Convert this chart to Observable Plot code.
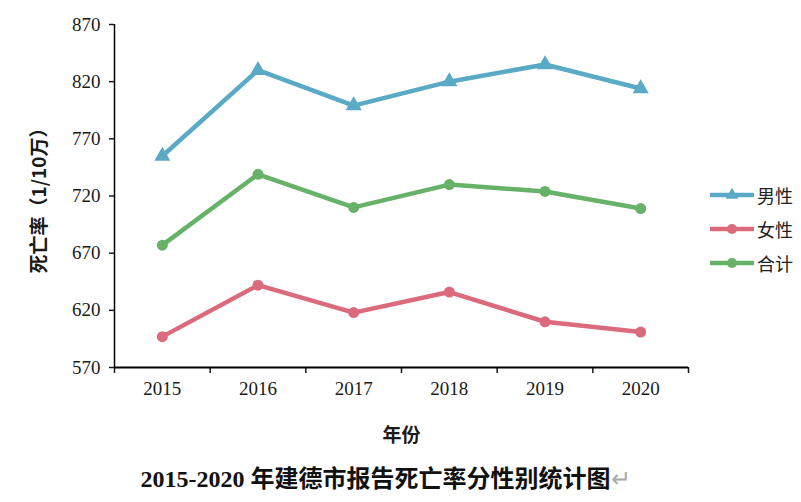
<!DOCTYPE html>
<html>
<head>
<meta charset="utf-8">
<script src="https://cdn.jsdelivr.net/npm/d3@7"></script>
<script src="https://cdn.jsdelivr.net/npm/@observablehq/plot@0.6"></script>
<style>
  body { margin: 0; background: #fff; }
  #wrap { position: relative; width: 801px; height: 502px; background: #fff; font-family: "Liberation Serif", "Noto Sans CJK SC", serif; }
  #wrap svg [aria-label$="axis label"] text { font-weight: bold; font-size: 19px; font-family: "Noto Sans CJK SC", sans-serif; }
  #legend { position: absolute; left: 710px; top: 178px; font-family: "Noto Sans CJK SC", sans-serif; font-size: 18px; color: #222; }
  #legend .item { display: flex; align-items: center; height: 34px; }
  #legend svg { margin-right: 3px; }
  #caption { position: absolute; top: 459px; left: 0; width: 801px; padding-right: 30px; box-sizing: border-box; text-align: center; font-size: 24px; font-weight: bold; color: #111; font-family: "Liberation Serif", "Noto Sans CJK SC", serif; }
  #caption .mark { color: #aaa; font-weight: normal; }
</style>
</head>
<body>
<div id="wrap">
  <div id="chart"></div>
  <div id="legend"></div>
  <div id="caption">2015-2020 年建德市报告死亡率分性别统计图<span class="mark">↵</span></div>
</div>
<script>
const years = [2015, 2016, 2017, 2018, 2019, 2020];
const seriesNames = ["男性", "女性", "合计"];
const male = [755, 830, 799, 820, 835, 814];
const female = [597, 642, 618, 636, 610, 601];
const total = [677, 739, 710, 730, 724, 709];
const yTicks = [570, 620, 670, 720, 770, 820, 870];
const colors = ["#5aaac5", "#db6a7d", "#68b168"];
const symbols = ["triangle", "circle", "circle"];
const yLabel = "死亡率（1/10万）";
const xLabel = "年份";

const valuesBySeries = [male, female, total];
const data = seriesNames.flatMap((s, k) => years.map((yr, i) => ({year: yr, series: s, value: valuesBySeries[k][i]})));
const bounds = [...years.map(y => y - 0.5), years[years.length - 1] + 0.5];

const chart = Plot.plot({
  width: 801,
  height: 450,
  marginTop: 24,
  marginBottom: 83,
  marginLeft: 114,
  marginRight: 113,
  style: {fontFamily: "Liberation Serif, serif", fontSize: "19px", color: "#1a1a1a", background: "white"},
  x: {domain: [bounds[0], bounds[bounds.length - 1]]},
  y: {domain: [yTicks[0], yTicks[yTicks.length - 1]]},
  color: {domain: seriesNames, range: colors},
  marks: [
    Plot.axisY({ticks: yTicks, tickSize: 5, tickPadding: 9, fontSize: 19, strokeWidth: 1.5, label: yLabel, labelAnchor: "center", labelOffset: 82, labelArrow: "none"}),
    Plot.axisX({ticks: bounds, tickFormat: () => "", tickSize: 6, strokeWidth: 1.5, label: null}),
    Plot.axisX({ticks: years, tickFormat: d => String(d), tickSize: 0, tickPadding: 14, fontSize: 19, label: xLabel, labelAnchor: "center", labelOffset: 74, labelArrow: "none"}),
    Plot.ruleX([bounds[0]], {stroke: "#000", strokeWidth: 1.5}),
    Plot.ruleY([yTicks[0]], {stroke: "#000", strokeWidth: 2}),
    Plot.line(data, {x: "year", y: "value", z: "series", stroke: "series", strokeWidth: 4.5}),
    Plot.dot(data.filter(d => d.series === seriesNames[0]), {x: "year", y: "value", fill: "series", symbol: "triangle", r: 6}),
    Plot.dot(data.filter(d => d.series !== seriesNames[0]), {x: "year", y: "value", fill: "series", symbol: "circle", r: 5.5})
  ]
});
document.getElementById("chart").appendChild(chart);

const legend = d3.select("#legend");
seriesNames.forEach((s, k) => {
  const item = legend.append("div").attr("class", "item");
  const sw = item.append("svg").attr("width", 44).attr("height", 14);
  sw.append("line").attr("x1", 1).attr("x2", 43).attr("y1", 7).attr("y2", 7).attr("stroke", colors[k]).attr("stroke-width", 4.5).attr("stroke-linecap", "round");
  const sym = d3.symbol().type(symbols[k] === "triangle" ? d3.symbolTriangle : d3.symbolCircle).size(symbols[k] === "triangle" ? 70 : 80);
  sw.append("path").attr("d", sym()).attr("transform", "translate(22,7)").attr("fill", colors[k]);
  item.append("span").text(s);
});
</script>
</body>
</html>
